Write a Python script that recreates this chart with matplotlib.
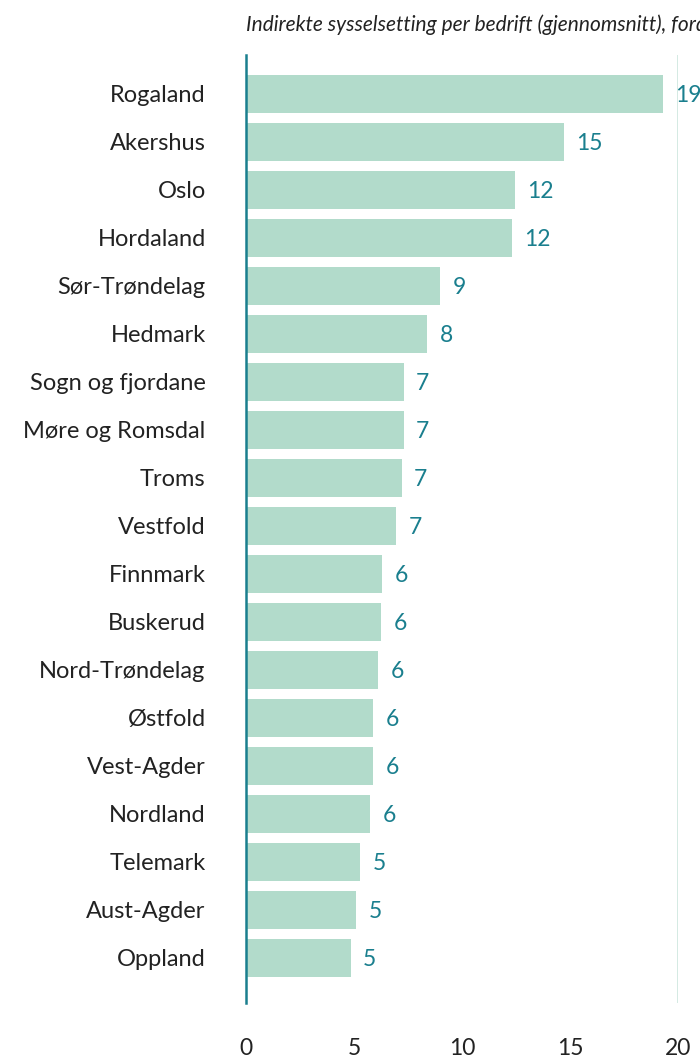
import matplotlib.pyplot as plt
from matplotlib.ticker import FixedLocator

fylker = ["Rogaland", "Akershus", "Oslo", "Hordaland", "Sør-Trøndelag", "Hedmark",
          "Sogn og fjordane", "Møre og Romsdal", "Troms", "Vestfold", "Finnmark",
          "Buskerud", "Nord-Trøndelag", "Østfold", "Vest-Agder", "Nordland",
          "Telemark", "Aust-Agder", "Oppland"]
verdier = [19.3, 14.7, 12.45, 12.3, 9.0, 8.4, 7.3, 7.3, 7.2, 6.95, 6.3,
           6.25, 6.1, 5.9, 5.9, 5.75, 5.3, 5.1, 4.85]
x_ticks = [0, 5, 10, 15, 20]
tittel = "Indirekte sysselsetting per bedrift (gjennomsnitt), fordelt på fylke"

bar_color = "#b2dbcb"
teal = "#1a7f8e"
text_color = "#222222"

plt.rcParams["font.family"] = ["Lato", "DejaVu Sans"]

fig = plt.figure(figsize=(7, 10.63), dpi=100)
ax = fig.add_axes([246 / 700, 1 - 1003 / 1063, (678 - 246) / 700, (1003 - 55) / 1063])

ypos = list(range(len(fylker)))
ax.barh(ypos, verdier, height=0.79, color=bar_color, zorder=2)

for y, v in zip(ypos, verdier):
    ax.annotate(f"{round(v)}", xy=(v, y), xytext=(9, -1.5), textcoords="offset points",
                va="center", ha="left", fontsize=16.5, color=teal,
                annotation_clip=False)

ax.set_xlim(0, 20)
ax.set_ylim(18.94, -0.81)

ax.set_yticks(ypos)
ax.set_yticklabels(fylker, fontsize=17, color=text_color)
ax.tick_params(axis="y", length=0, pad=29)

ax.xaxis.set_major_locator(FixedLocator(x_ticks))
ax.set_xticklabels([str(t) for t in x_ticks], fontsize=16.5, color=text_color)
ax.tick_params(axis="x", length=0, pad=25)

ax.axvline(20, color="#cde6de", lw=1.2, zorder=1)

for side in ["top", "right", "bottom"]:
    ax.spines[side].set_visible(False)
ax.spines["left"].set_color(teal)
ax.spines["left"].set_linewidth(1.8)
ax.spines["left"].set_zorder(3)

fig.text(246 / 700, 1 - 25 / 1063, tittel, fontsize=15, style="italic",
         color=text_color, ha="left", va="center")

fig.savefig("out.png", dpi=100)
